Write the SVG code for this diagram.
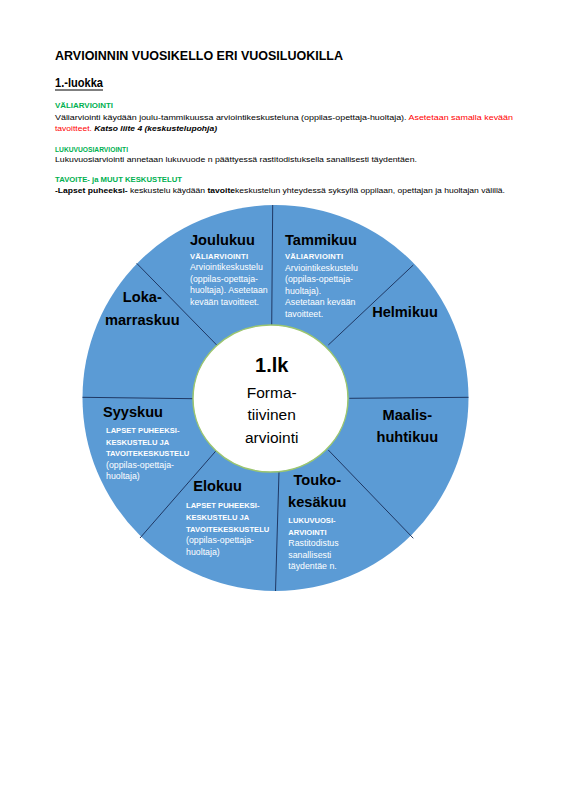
<svg xmlns="http://www.w3.org/2000/svg" width="565" height="800" viewBox="0 0 565 800">
<style>
text{font-family:"Liberation Sans",Arial,sans-serif;}
.h{font-weight:bold;fill:#000;}
.body{font-size:8px;fill:#000;}
.green{font-size:7.8px;font-weight:bold;fill:#00b050;}
.red{fill:#ff0000;}
.b{font-weight:bold;}
.month{font-size:14.6px;font-weight:bold;fill:#000;}
.cap{font-size:7.6px;font-weight:bold;fill:#fff;}
.wt{font-size:8.8px;fill:#fff;}
.div{stroke:#1f3864;stroke-width:1;fill:none;}
</style>
<rect width="565" height="800" fill="#fff"/>
<g id="header">
<text class="h" x="55" y="60" font-size="12.5" textLength="288" lengthAdjust="spacingAndGlyphs">ARVIOINNIN VUOSIKELLO ERI VUOSILUOKILLA</text>
<text class="h" x="55" y="87" font-size="12.5" textLength="48" lengthAdjust="spacingAndGlyphs">1.-luokka</text>
<line x1="55" y1="90" x2="103" y2="90" stroke="#000" stroke-width="1"/>
<text class="green" x="55" y="108" textLength="58" lengthAdjust="spacingAndGlyphs">VÄLIARVIOINTI</text>
<text class="body" x="55" y="119.5" textLength="458" lengthAdjust="spacingAndGlyphs">Väliarviointi käydään joulu-tammikuussa arviointikeskusteluna (oppilas-opettaja-huoltaja). <tspan class="red">Asetetaan samalla kevään</tspan></text>
<text class="body" x="55" y="131" textLength="162" lengthAdjust="spacingAndGlyphs"><tspan class="red">tavoitteet.</tspan>  <tspan font-weight="bold" font-style="italic">Katso liite 4 (keskustelupohja)</tspan></text>
<text class="green" x="55" y="151.5" textLength="73" lengthAdjust="spacingAndGlyphs">LUKUVUOSIARVIOINTI</text>
<text class="body" x="55" y="162" textLength="362" lengthAdjust="spacingAndGlyphs">Lukuvuosiarviointi annetaan lukuvuode n päättyessä rastitodistuksella sanallisesti täydentäen.</text>
<text class="green" x="55" y="182" textLength="127" lengthAdjust="spacingAndGlyphs">TAVOITE- ja MUUT KESKUSTELUT</text>
<text class="body" x="55" y="193" textLength="450" lengthAdjust="spacingAndGlyphs"><tspan class="b">-Lapset puheeksi-</tspan> keskustelu käydään <tspan class="b">tavoite</tspan>keskustelun yhteydessä syksyllä oppilaan, opettajan ja huoltajan välillä.</text>
</g>
<g id="wheel">
<circle cx="275.5" cy="398" r="193" fill="#5b9bd5"/>
</g>
<g id="connectors">
<line class="div" x1="272.7" y1="205" x2="271.7" y2="327"/>
<line class="div" x1="136.7" y1="263.3" x2="216.7" y2="345"/>
<line class="div" x1="82.5" y1="397.3" x2="193.3" y2="398.7"/>
<line class="div" x1="140" y1="538" x2="216.7" y2="450"/>
<line class="div" x1="279" y1="471.7" x2="275.5" y2="591"/>
<line class="div" x1="328.3" y1="450" x2="413.3" y2="538.3"/>
<line class="div" x1="349.3" y1="398.3" x2="468.5" y2="397.3"/>
<line class="div" x1="328.3" y1="345" x2="413.3" y2="265"/>
</g>
<g id="center">
<ellipse cx="270.5" cy="398.5" rx="77.5" ry="73.5" fill="#fff" stroke="#9cc66f" stroke-width="1.5"/>
<text x="271.7" y="372" font-size="20" font-weight="bold" text-anchor="middle">1.lk</text>
<text x="271.7" y="397.5" font-size="15.5" text-anchor="middle">Forma-</text>
<text x="271.7" y="420" font-size="15.5" text-anchor="middle">tiivinen</text>
<text x="271.7" y="442.5" font-size="15.5" text-anchor="middle">arviointi</text>
</g>
<g id="joulukuu">
<text class="month" x="190" y="245">Joulukuu</text>
<text class="cap" x="190" y="258.5" textLength="58" lengthAdjust="spacing">VÄLIARVIOINTI</text>
<text class="wt" x="190" y="270">Arviointikeskustelu</text>
<text class="wt" x="190" y="281.5">(oppilas-opettaja-</text>
<text class="wt" x="190" y="293">huoltaja). Asetetaan</text>
<text class="wt" x="190" y="304.5">kevään tavoitteet.</text>
</g>
<g id="tammikuu">
<text class="month" x="285" y="245">Tammikuu</text>
<text class="cap" x="285" y="259" textLength="58" lengthAdjust="spacing">VÄLIARVIOINTI</text>
<text class="wt" x="285" y="270.7">Arviointikeskustelu</text>
<text class="wt" x="285" y="282.3">(oppilas-opettaja-</text>
<text class="wt" x="285" y="293.8">huoltaja).</text>
<text class="wt" x="285" y="305.3">Asetetaan kevään</text>
<text class="wt" x="285" y="316.8">tavoitteet.</text>
</g>
<g id="helmikuu">
<text class="month" x="405" y="316.7" text-anchor="middle">Helmikuu</text>
</g>
<g id="maalis-huhtikuu">
<text class="month" x="407.3" y="420" text-anchor="middle">Maalis-</text>
<text class="month" x="407.3" y="441.7" text-anchor="middle">huhtikuu</text>
</g>
<g id="touko-kesakuu">
<text class="month" x="317.3" y="485" text-anchor="middle">Touko-</text>
<text class="month" x="317.3" y="506.7" text-anchor="middle">kesäkuu</text>
<text class="cap" x="288.3" y="523.3">LUKUVUOSI-</text>
<text class="cap" x="288.3" y="534.5">ARVIOINTI</text>
<text class="wt" x="288.3" y="546">Rastitodistus</text>
<text class="wt" x="288.3" y="557.7">sanallisesti</text>
<text class="wt" x="288.3" y="569.3">täydentäe n.</text>
</g>
<g id="elokuu">
<text class="month" x="193.3" y="491">Elokuu</text>
<text class="cap" x="186" y="508.3">LAPSET PUHEEKSI-</text>
<text class="cap" x="186" y="520">KESKUSTELU JA</text>
<text class="cap" x="186" y="531.5">TAVOITEKESKUSTELU</text>
<text class="wt" x="186" y="543.3">(oppilas-opettaja-</text>
<text class="wt" x="186" y="554.8">huoltaja)</text>
</g>
<g id="syyskuu">
<text class="month" x="103" y="416.7">Syyskuu</text>
<text class="cap" x="106" y="433.3">LAPSET PUHEEKSI-</text>
<text class="cap" x="106" y="444.8">KESKUSTELU JA</text>
<text class="cap" x="106" y="456.3">TAVOITEKESKUSTELU</text>
<text class="wt" x="106" y="467.8">(oppilas-opettaja-</text>
<text class="wt" x="106" y="479.3">huoltaja)</text>
</g>
<g id="loka-marraskuu">
<text class="month" x="142.3" y="301.7" text-anchor="middle">Loka-</text>
<text class="month" x="142.3" y="325" text-anchor="middle">marraskuu</text>
</g>
</svg>
